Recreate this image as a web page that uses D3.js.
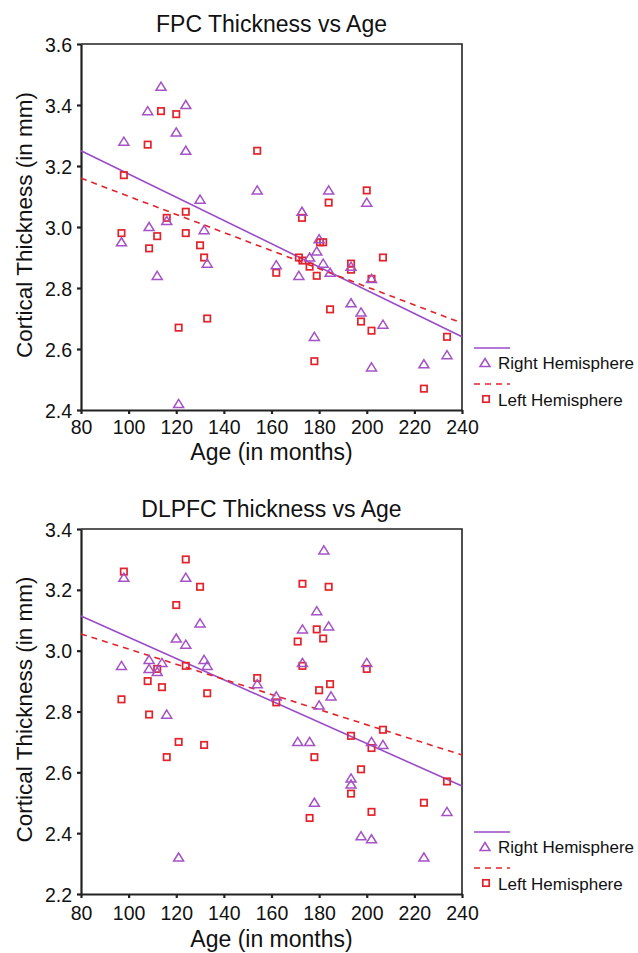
<!DOCTYPE html>
<html>
<head>
<meta charset="utf-8">
<script src="https://cdn.jsdelivr.net/npm/d3@7/dist/d3.min.js"></script>
<style>
  body { margin: 0; background: #fff; }
  svg text { font-family: "Liberation Sans", Arial, Helvetica, sans-serif; fill: #111; }
</style>
</head>
<body>
<svg id="viewer" width="638" height="953"></svg>
<script>
// x axis is the same for both panels
let ageTicks = [80, 100, 120, 140, 160, 180, 200, 220, 240];

// FPC panel
let fpcTicks = [2.4, 2.6, 2.8, 3.0, 3.2, 3.4, 3.6];
let fpcRightAge = [97, 98, 108, 108.6, 112, 113.6, 116, 120, 121, 124, 124, 130, 131.7, 133, 154, 162, 171.5, 172.8, 176, 178, 179, 180, 181.7, 184, 184.6, 193.4, 193.4, 197.6, 200, 202, 202, 206.8, 224, 233.7];
let fpcRightThk = [2.95, 3.28, 3.38, 3.00, 2.84, 3.46, 3.02, 3.31, 2.42, 3.40, 3.25, 3.09, 2.99, 2.88, 3.12, 2.875, 2.84, 3.05, 2.90, 2.64, 2.92, 2.96, 2.88, 3.12, 2.85, 2.75, 2.87, 2.72, 3.08, 2.54, 2.83, 2.68, 2.55, 2.58];
let fpcLeftAge = [97, 98, 108, 108.6, 112, 113.6, 116, 120, 121, 124, 124, 130, 131.7, 133, 154, 162, 171.5, 172.8, 173, 176, 178, 179, 180.4, 181.7, 184, 184.6, 193.4, 193.4, 197.6, 200, 202, 202, 206.8, 224, 233.7];
let fpcLeftThk = [2.98, 3.17, 3.27, 2.93, 2.97, 3.38, 3.03, 3.37, 2.67, 3.05, 2.98, 2.94, 2.90, 2.70, 3.25, 2.85, 2.90, 3.03, 2.89, 2.87, 2.56, 2.84, 2.95, 2.95, 3.08, 2.73, 2.88, 2.86, 2.69, 3.12, 2.83, 2.66, 2.90, 2.47, 2.64];
// fit lines: [age, thickness] at both ends
let fpcRightFit = [[80, 3.25], [240, 2.64]];
let fpcLeftFit = [[80, 3.16], [240, 2.685]];

// DLPFC panel
let dlpfcTicks = [2.2, 2.4, 2.6, 2.8, 3.0, 3.2, 3.4];
let dlpfcRightAge = [97, 98, 108.6, 108.6, 112, 114, 116, 120, 121, 124, 124, 130, 131.7, 133, 154, 162, 171, 173, 173, 176, 178, 179, 180, 182, 184, 185, 193.4, 193.4, 197.6, 200, 202, 202, 206.8, 224, 233.7];
let dlpfcRightThk = [2.95, 3.24, 2.97, 2.94, 2.93, 2.96, 2.79, 3.04, 2.32, 3.24, 3.02, 3.09, 2.97, 2.95, 2.89, 2.85, 2.70, 3.07, 2.96, 2.70, 2.50, 3.13, 2.82, 3.33, 3.08, 2.85, 2.58, 2.56, 2.39, 2.96, 2.70, 2.38, 2.69, 2.32, 2.47];
let dlpfcLeftAge = [97, 98, 108, 108.6, 112, 114, 116, 120, 121, 124, 124, 130, 131.7, 133, 154, 162, 171, 173, 173, 176, 178, 179, 180, 181.7, 184, 184.6, 193.4, 193.4, 197.6, 200, 202, 202, 206.8, 224, 233.7];
let dlpfcLeftThk = [2.84, 3.26, 2.90, 2.79, 2.94, 2.88, 2.65, 3.15, 2.70, 3.30, 2.95, 3.21, 2.69, 2.86, 2.91, 2.83, 3.03, 3.22, 2.95, 2.45, 2.65, 3.07, 2.87, 3.04, 3.21, 2.89, 2.72, 2.53, 2.61, 2.94, 2.68, 2.47, 2.74, 2.50, 2.57];
let dlpfcRightFit = [[80, 3.114], [240, 2.555]];
let dlpfcLeftFit = [[80, 3.055], [240, 2.657]];

let legendLabels = ['Right Hemisphere', 'Left Hemisphere'];

let purple = '#a452c6';
let purpleLine = '#9a4bc8';
let red = '#e3232b';
let triPath = 'M0,-4.5L5,3.6L-5,3.6Z';

let svg = d3.select('#viewer');

var drawPanel = function (cfg) {
  let g = svg.append('g');

  let x = d3.scaleLinear().domain([80, 240]).range([cfg.left, cfg.right]);
  let y = d3.scaleLinear().domain([cfg.ticks[0], cfg.ticks[cfg.ticks.length - 1]]).range([cfg.bottom, cfg.top]);

  // title
  g.append('text')
    .attr('x', (cfg.left + cfg.right) / 2)
    .attr('y', cfg.top - 12)
    .attr('text-anchor', 'middle')
    .style('font-size', '23px')
    .text(cfg.title);

  // frame top + right
  g.append('path')
    .attr('d', 'M' + cfg.left + ',' + cfg.top + 'H' + cfg.right + 'V' + cfg.bottom)
    .attr('fill', 'none')
    .attr('stroke', '#222')
    .attr('stroke-width', 1.6);

  let xAxis = d3.axisBottom(x)
    .tickValues(ageTicks)
    .tickSize(4)
    .tickSizeOuter(0)
    .tickPadding(cfg.xPad);

  let xg = g.append('g')
    .attr('transform', 'translate(0,' + cfg.bottom + ')')
    .call(xAxis);
  xg.selectAll('text').style('font-size', '19.5px').attr('fill', '#111');

  let yAxis = d3.axisLeft(y)
    .tickValues(cfg.ticks)
    .tickSize(4)
    .tickSizeOuter(0)
    .tickPadding(5)
    .tickFormat(d3.format('.1f'));

  let yg = g.append('g')
    .attr('transform', 'translate(' + cfg.left + ',0)')
    .call(yAxis);
  yg.selectAll('text').style('font-size', '19.5px').attr('fill', '#111').attr('dy', '0.36em');

  [xg, yg].forEach(function (ax) {
    ax.select('.domain').attr('stroke', '#222').attr('stroke-width', 2.2);
    ax.selectAll('.tick line').attr('stroke', '#222').attr('stroke-width', 2.2);
  });

  // axis titles
  g.append('text')
    .attr('x', (cfg.left + cfg.right) / 2)
    .attr('y', cfg.bottom + cfg.xLabelOff)
    .attr('text-anchor', 'middle')
    .style('font-size', '23px')
    .text('Age (in months)');

  g.append('text')
    .attr('transform', 'translate(32,' + ((cfg.top + cfg.bottom) / 2 - 2) + ') rotate(-90)')
    .attr('text-anchor', 'middle')
    .style('font-size', '22.5px')
    .text('Cortical Thickness (in mm)');

  // fit lines
  let line = d3.line()
    .x(function (d) { return x(d[0]); })
    .y(function (d) { return y(d[1]); });

  g.append('path')
    .attr('d', line(cfg.rightFit))
    .attr('fill', 'none')
    .attr('stroke', purpleLine)
    .attr('stroke-width', 1.6);

  g.append('path')
    .attr('d', line(cfg.leftFit))
    .attr('fill', 'none')
    .attr('stroke', red)
    .attr('stroke-width', 1.6)
    .attr('stroke-dasharray', '6,5');

  // left hemisphere squares
  g.selectAll('rect.left')
    .data(d3.range(cfg.leftAge.length))
    .enter().append('rect')
    .attr('class', 'left')
    .attr('x', function (i) { return x(cfg.leftAge[i]) - 3.2; })
    .attr('y', function (i) { return y(cfg.leftThk[i]) - 3.2; })
    .attr('width', 6.4)
    .attr('height', 6.4)
    .attr('fill', 'none')
    .attr('stroke', red)
    .attr('stroke-width', 1.7);

  // right hemisphere triangles
  g.selectAll('path.right')
    .data(d3.range(cfg.rightAge.length))
    .enter().append('path')
    .attr('class', 'right')
    .attr('d', triPath)
    .attr('transform', function (i) {
      return 'translate(' + x(cfg.rightAge[i]) + ',' + y(cfg.rightThk[i]) + ')';
    })
    .attr('fill', 'none')
    .attr('stroke', purple)
    .attr('stroke-width', 1.5);

  // legend, hangs off the lower right of the plot
  let lx = cfg.right + 12;
  let lb = cfg.bottom;
  g.append('line')
    .attr('x1', lx).attr('x2', lx + 36)
    .attr('y1', lb - 62).attr('y2', lb - 62)
    .attr('stroke', purpleLine).attr('stroke-width', 1.6);
  g.append('path')
    .attr('d', triPath)
    .attr('transform', 'translate(' + (lx + 11) + ',' + (lb - 47) + ')')
    .attr('fill', 'none').attr('stroke', purple).attr('stroke-width', 1.5);
  g.append('text')
    .attr('x', lx + 24).attr('y', lb - 41)
    .style('font-size', '17px')
    .text(legendLabels[0]);

  g.append('line')
    .attr('x1', lx).attr('x2', lx + 36)
    .attr('y1', lb - 26).attr('y2', lb - 26)
    .attr('stroke', red).attr('stroke-width', 1.6)
    .attr('stroke-dasharray', '6,5');
  g.append('rect')
    .attr('x', lx + 12 - 3.2).attr('y', lb - 11 - 3.2)
    .attr('width', 6.4).attr('height', 6.4)
    .attr('fill', 'none').attr('stroke', red).attr('stroke-width', 1.7);
  g.append('text')
    .attr('x', lx + 24).attr('y', lb - 4)
    .style('font-size', '17px')
    .text(legendLabels[1]);
};

drawPanel({
  title: 'FPC Thickness vs Age',
  left: 81, right: 462, top: 44, bottom: 410,
  xPad: 6, xLabelOff: 50,
  ticks: fpcTicks,
  rightAge: fpcRightAge, rightThk: fpcRightThk,
  leftAge: fpcLeftAge, leftThk: fpcLeftThk,
  rightFit: fpcRightFit, leftFit: fpcLeftFit
});

drawPanel({
  title: 'DLPFC Thickness vs Age',
  left: 81, right: 462, top: 529, bottom: 894,
  xPad: 8, xLabelOff: 53,
  ticks: dlpfcTicks,
  rightAge: dlpfcRightAge, rightThk: dlpfcRightThk,
  leftAge: dlpfcLeftAge, leftThk: dlpfcLeftThk,
  rightFit: dlpfcRightFit, leftFit: dlpfcLeftFit
});
</script>
</body>
</html>
